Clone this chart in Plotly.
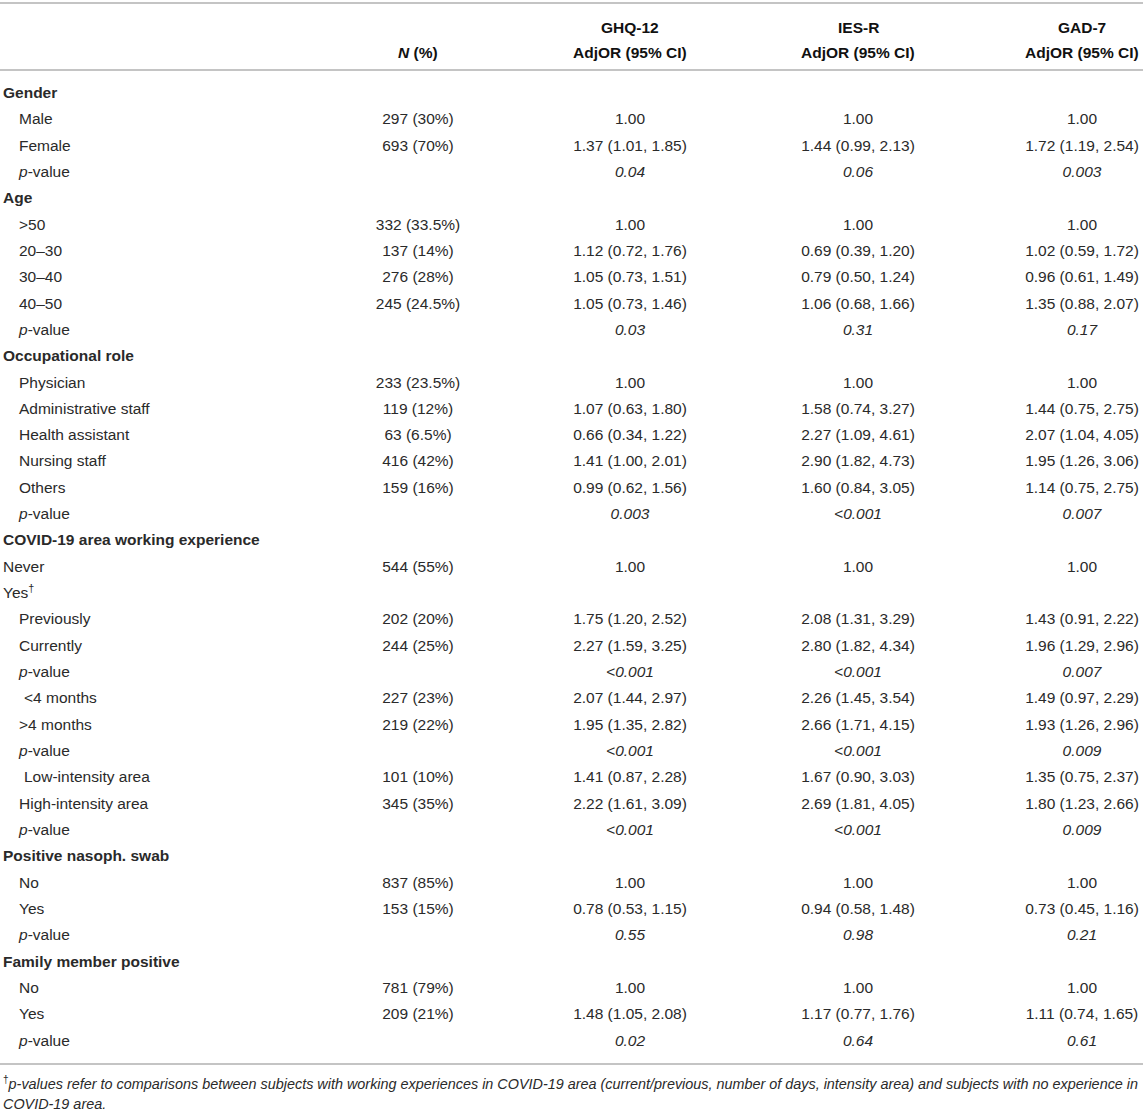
import plotly.graph_objects as go

# table content, row by row
labels = [
    "Gender", "Male", "Female", "p-value",
    "Age", ">50", "20–30", "30–40", "40–50", "p-value",
    "Occupational role", "Physician", "Administrative staff", "Health assistant",
    "Nursing staff", "Others", "p-value",
    "COVID-19 area working experience", "Never", "Yes†", "Previously", "Currently",
    "p-value", "<4 months", ">4 months", "p-value", "Low-intensity area",
    "High-intensity area", "p-value",
    "Positive nasoph. swab", "No", "Yes", "p-value",
    "Family member positive", "No", "Yes", "p-value",
]
kinds = [
    "section", "row", "row", "p",
    "section", "row", "row", "row", "row", "p",
    "section", "row", "row", "row", "row", "row", "p",
    "section", "row", "row", "row", "row", "p", "row", "row", "p", "row", "row", "p",
    "section", "row", "row", "p",
    "section", "row", "row", "p",
]
levels = [
    0, 1, 1, 1,
    0, 1, 1, 1, 1, 1,
    0, 1, 1, 1, 1, 1, 1,
    0, 0, 0, 1, 1, 1, 2, 1, 1, 2, 1, 1,
    0, 1, 1, 1,
    0, 1, 1, 1,
]
n_pct = [
    "", "297 (30%)", "693 (70%)", "",
    "", "332 (33.5%)", "137 (14%)", "276 (28%)", "245 (24.5%)", "",
    "", "233 (23.5%)", "119 (12%)", "63 (6.5%)", "416 (42%)", "159 (16%)", "",
    "", "544 (55%)", "", "202 (20%)", "244 (25%)", "", "227 (23%)", "219 (22%)", "",
    "101 (10%)", "345 (35%)", "",
    "", "837 (85%)", "153 (15%)", "",
    "", "781 (79%)", "209 (21%)", "",
]
ghq = [
    "", "1.00", "1.37 (1.01, 1.85)", "0.04",
    "", "1.00", "1.12 (0.72, 1.76)", "1.05 (0.73, 1.51)", "1.05 (0.73, 1.46)", "0.03",
    "", "1.00", "1.07 (0.63, 1.80)", "0.66 (0.34, 1.22)", "1.41 (1.00, 2.01)",
    "0.99 (0.62, 1.56)", "0.003",
    "", "1.00", "", "1.75 (1.20, 2.52)", "2.27 (1.59, 3.25)", "<0.001",
    "2.07 (1.44, 2.97)", "1.95 (1.35, 2.82)", "<0.001", "1.41 (0.87, 2.28)",
    "2.22 (1.61, 3.09)", "<0.001",
    "", "1.00", "0.78 (0.53, 1.15)", "0.55",
    "", "1.00", "1.48 (1.05, 2.08)", "0.02",
]
ies = [
    "", "1.00", "1.44 (0.99, 2.13)", "0.06",
    "", "1.00", "0.69 (0.39, 1.20)", "0.79 (0.50, 1.24)", "1.06 (0.68, 1.66)", "0.31",
    "", "1.00", "1.58 (0.74, 3.27)", "2.27 (1.09, 4.61)", "2.90 (1.82, 4.73)",
    "1.60 (0.84, 3.05)", "<0.001",
    "", "1.00", "", "2.08 (1.31, 3.29)", "2.80 (1.82, 4.34)", "<0.001",
    "2.26 (1.45, 3.54)", "2.66 (1.71, 4.15)", "<0.001", "1.67 (0.90, 3.03)",
    "2.69 (1.81, 4.05)", "<0.001",
    "", "1.00", "0.94 (0.58, 1.48)", "0.98",
    "", "1.00", "1.17 (0.77, 1.76)", "0.64",
]
gad = [
    "", "1.00", "1.72 (1.19, 2.54)", "0.003",
    "", "1.00", "1.02 (0.59, 1.72)", "0.96 (0.61, 1.49)", "1.35 (0.88, 2.07)", "0.17",
    "", "1.00", "1.44 (0.75, 2.75)", "2.07 (1.04, 4.05)", "1.95 (1.26, 3.06)",
    "1.14 (0.75, 2.75)", "0.007",
    "", "1.00", "", "1.43 (0.91, 2.22)", "1.96 (1.29, 2.96)", "0.007",
    "1.49 (0.97, 2.29)", "1.93 (1.26, 2.96)", "0.009", "1.35 (0.75, 2.37)",
    "1.80 (1.23, 2.66)", "0.009",
    "", "1.00", "0.73 (0.45, 1.16)", "0.21",
    "", "1.00", "1.11 (0.74, 1.65)", "0.61",
]
col_titles = ["<i>N</i> (%)", "GHQ-12<br>AdjOR (95% CI)",
              "IES-R<br>AdjOR (95% CI)", "GAD-7<br>AdjOR (95% CI)"]
footnote = [
    "<sup>†</sup><i>p-values refer to comparisons between subjects with working "
    "experiences in COVID-19 area (current/previous, number of days, intensity area) "
    "and subjects with no experience in</i>",
    "<i>COVID-19 area.</i>",
]

W, H = 1143, 1112
TXT = "#2a2a2a"
LINE = "#c4c4c4"
FONT = "Liberation Sans, Arial, sans-serif"
row_y0, row_step = 94, 26.33
col_x = [418, 630, 858, 1082]
indent = {0: 3, 1: 19, 2: 24}

ys = [row_y0 + i * row_step for i in range(len(labels))]


def esc(s):
    return s.replace("<", "&lt;")


def fmt_label(lab, kind):
    if kind == "section":
        return "<b>" + esc(lab) + "</b>"
    if lab == "p-value":
        return "<i>p</i>-value"
    if lab.endswith("†"):
        return esc(lab[:-1]) + "<sup>†</sup>"
    return esc(lab)


def fmt_val(v, kind):
    if kind == "p":
        return "<i>" + esc(v) + "</i>"
    return esc(v)


fig = go.Figure()

fig.add_trace(go.Scatter(
    x=[indent[l] for l in levels], y=ys,
    text=[fmt_label(l, k) for l, k in zip(labels, kinds)],
    mode="text", textposition="middle right",
    textfont=dict(family=FONT, size=15.5, color=TXT),
    hoverinfo="skip", showlegend=False,
))

for cx, col in zip(col_x, [n_pct, ghq, ies, gad]):
    keep = [i for i, v in enumerate(col) if v]
    fig.add_trace(go.Scatter(
        x=[cx] * len(keep), y=[ys[i] for i in keep],
        text=[fmt_val(col[i], kinds[i]) for i in keep],
        mode="text", textposition="middle center",
        textfont=dict(family=FONT, size=15.5, color=TXT),
        hoverinfo="skip", showlegend=False,
    ))

# header
for cx, t in zip(col_x, col_titles):
    parts = t.split("<br>")
    hy = [52] if len(parts) == 1 else [27, 52]
    for y, p in zip(hy, parts):
        fig.add_annotation(x=cx, y=y, xref="x", yref="y", text="<b>" + p + "</b>",
                           showarrow=False, xanchor="center", yanchor="middle",
                           font=dict(family=FONT, size=15.5, color="#111"))

for y in [3, 70, ys[-1] + 22]:
    fig.add_shape(type="line", xref="paper", yref="y", x0=0, x1=1, y0=y, y1=y,
                  line=dict(color=LINE, width=2))

for i, t in enumerate(footnote):
    fig.add_annotation(x=1, y=1083 + i * 21, xref="x", yref="y", text=t,
                       showarrow=False, xanchor="left", yanchor="middle",
                       font=dict(family=FONT, size=14.4, color=TXT))

fig.update_xaxes(range=[0, W], visible=False, fixedrange=True)
fig.update_yaxes(range=[H, 0], visible=False, fixedrange=True)
fig.update_layout(width=W, height=H, margin=dict(l=0, r=0, t=0, b=0),
                  plot_bgcolor="white", paper_bgcolor="white")

fig.write_html("out.html", config={"displayModeBar": False},
               post_script="document.body.style.margin='0';")
